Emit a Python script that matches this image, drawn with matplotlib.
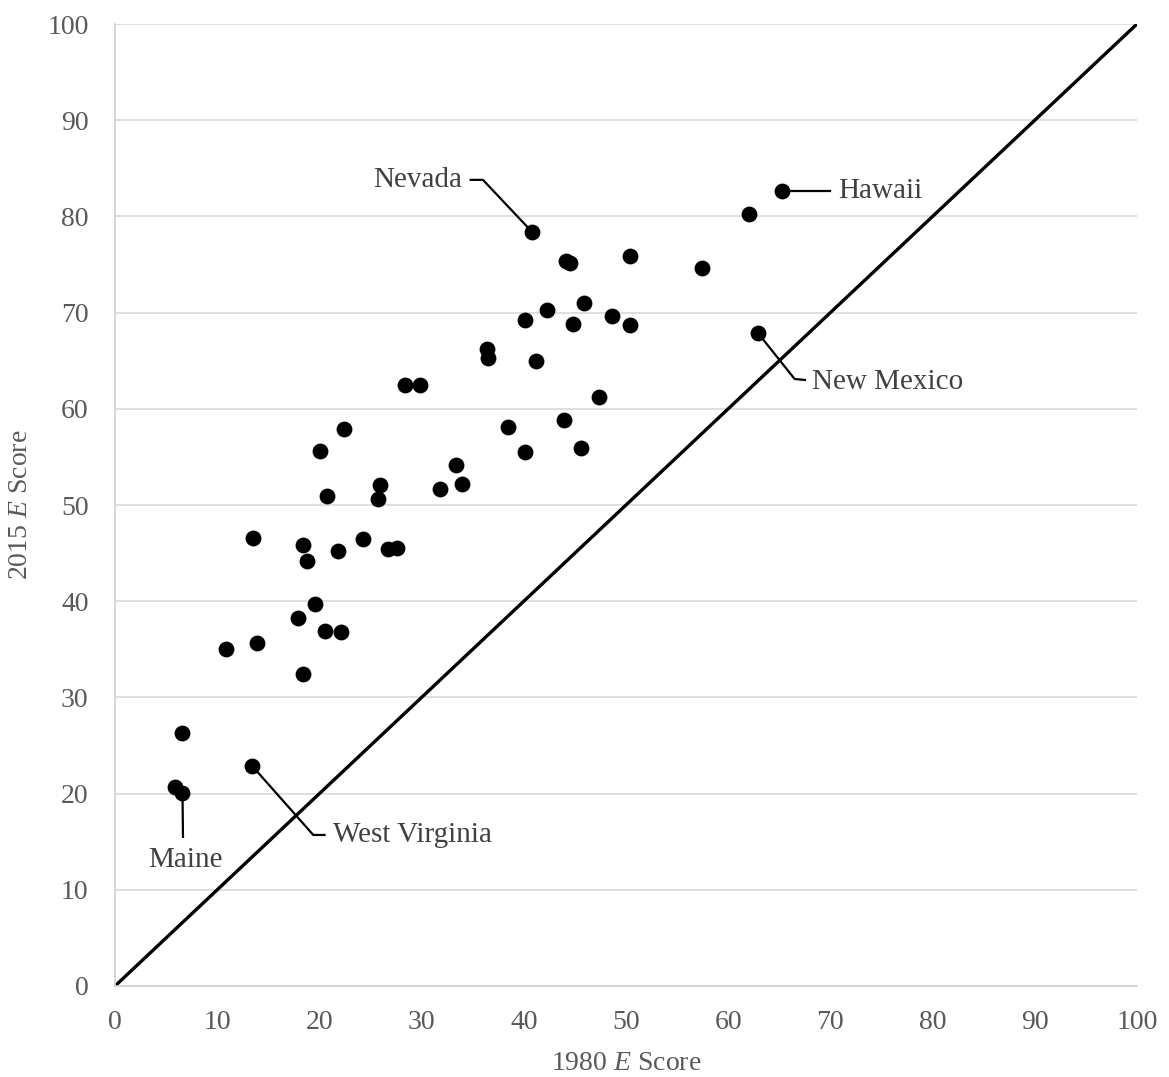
import matplotlib.pyplot as plt

plt.rcParams['font.family'] = ['Liberation Serif', 'DejaVu Serif']
plt.rcParams['mathtext.fontset'] = 'custom'
plt.rcParams['mathtext.rm'] = 'Liberation Serif'
plt.rcParams['mathtext.it'] = 'Liberation Serif:italic'

# 1980 and 2015 E scores per state
score_1980 = [40.8, 65.3, 62.0, 44.1, 44.5, 50.4, 57.4, 45.9, 42.3, 40.1,
              44.8, 48.6, 50.4, 62.9, 36.4, 36.5, 41.2, 28.4, 29.8, 47.4,
              22.4, 38.5, 43.9, 20.1, 40.1, 45.6, 33.4, 25.9, 25.7, 34.0,
              20.7, 31.8, 13.5, 18.4, 18.8, 21.8, 24.3, 26.7, 27.6, 19.6,
              17.9, 20.5, 22.1, 10.9, 13.9, 18.4, 6.6, 13.4, 5.9, 6.6]
score_2015 = [78.4, 82.6, 80.2, 75.4, 75.2, 75.9, 74.6, 71.0, 70.3, 69.2,
              68.8, 69.6, 68.7, 67.9, 66.2, 65.3, 65.0, 62.5, 62.5, 61.2,
              57.9, 58.1, 58.8, 55.6, 55.5, 55.9, 54.2, 52.1, 50.6, 52.2,
              50.9, 51.7, 46.6, 45.8, 44.2, 45.2, 46.5, 45.4, 45.5, 39.7,
              38.3, 36.9, 36.8, 35.0, 35.7, 32.4, 26.3, 22.9, 20.7, 20.1]

# labelled states: name, point, elbow of leader line, leader end, text anchor
labels = ['Nevada', 'Hawaii', 'New Mexico', 'West Virginia', 'Maine']
label_points = [(40.8, 78.4), (65.3, 82.6), (62.9, 67.9), (13.4, 22.9), (6.6, 20.1)]
label_elbows = [(36.0, 83.8), (70.0, 82.6), (66.5, 63.1), (19.4, 15.7), (6.65, 15.5)]
label_ends = [(34.8, 83.8), (70.0, 82.6), (67.5, 63.0), (20.5, 15.7), (6.65, 15.5)]
label_text = [(34.0, 83.8, 'right', 'center'), (70.8, 82.6, 'left', 'center'),
              (68.2, 62.8, 'left', 'center'), (21.3, 15.7, 'left', 'center'),
              (6.85, 14.5, 'center', 'top')]

fig = plt.figure(figsize=(11.69, 10.77), dpi=100)
ax = fig.add_axes([0.0984, 0.0845, 0.8742, 0.8932])

ax.plot([0, 100], [0, 100], color='black', lw=2.4, zorder=2)
ax.scatter(score_1980, score_2015, s=130, color='black', zorder=3, linewidths=0)

for name, p, e, q, t in zip(labels, label_points, label_elbows, label_ends, label_text):
    ax.plot([p[0], e[0], q[0]], [p[1], e[1], q[1]], color='black', lw=1.6, zorder=2)
    ax.text(t[0], t[1], name, ha=t[2], va=t[3], fontsize=21, color='#404040')

ax.set_xlim(0, 100)
ax.set_ylim(0, 100)
ax.set_xticks(range(0, 101, 10))
ax.set_yticks(range(0, 101, 10))
ax.grid(axis='y', color='#d9d9d9', lw=1.2)
ax.set_axisbelow(True)
for side in ['top', 'right']:
    ax.spines[side].set_visible(False)
for side in ['left', 'bottom']:
    ax.spines[side].set_color('#d0d0d0')
    ax.spines[side].set_linewidth(1.2)
ax.tick_params(length=0, labelsize=20, labelcolor='#595959')
ax.tick_params(axis='x', pad=17)
ax.tick_params(axis='y', pad=19)

ax.set_xlabel('1980 $\\mathit{E}$ Score', fontsize=20, color='#595959', labelpad=12)
ax.set_ylabel('2015 $\\mathit{E}$ Score', fontsize=20, color='#595959', labelpad=10)

fig.savefig('out.png', dpi=100)
